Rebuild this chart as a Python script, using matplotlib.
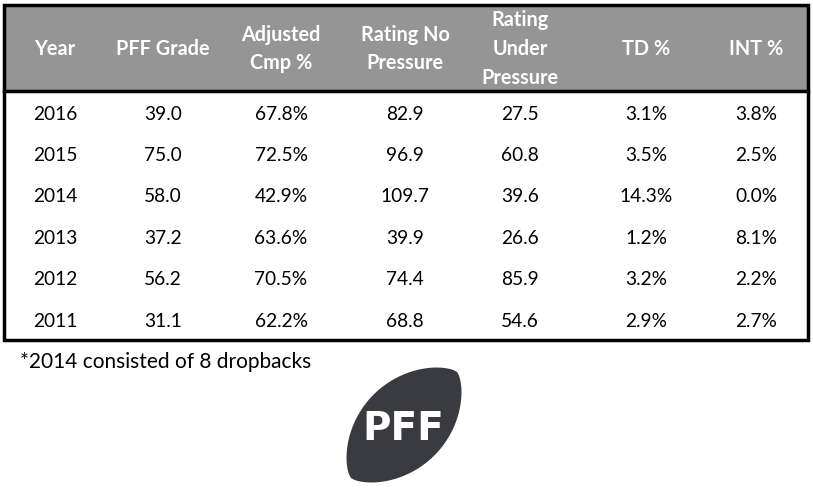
import numpy as np
import matplotlib
matplotlib.use("Agg")
import matplotlib.pyplot as plt
from matplotlib.patches import Rectangle, Polygon

plt.rcParams["font.family"] = ["Lato", "DejaVu Sans"]

headers = ["Year", "PFF Grade", "Adjusted\nCmp %", "Rating No\nPressure",
           "Rating\nUnder\nPressure", "TD %", "INT %"]
years = ["2016", "2015", "2014", "2013", "2012", "2011"]
pff_grade = ["39.0", "75.0", "58.0", "37.2", "56.2", "31.1"]
adj_cmp = ["67.8%", "72.5%", "42.9%", "63.6%", "70.5%", "62.2%"]
rating_no_pressure = ["82.9", "96.9", "109.7", "39.9", "74.4", "68.8"]
rating_under_pressure = ["27.5", "60.8", "39.6", "26.6", "85.9", "54.6"]
td_pct = ["3.1%", "3.5%", "14.3%", "1.2%", "3.2%", "2.9%"]
int_pct = ["3.8%", "2.5%", "0.0%", "8.1%", "2.2%", "2.7%"]
footnote = "*2014 consisted of 8 dropbacks"

columns = [years, pff_grade, adj_cmp, rating_no_pressure,
           rating_under_pressure, td_pct, int_pct]
col_x = [55, 163, 281, 405, 520, 646, 756]

W, H = 813, 490
fig = plt.figure(figsize=(W / 100, H / 100), dpi=100)
ax = fig.add_axes([0, 0, 1, 1])
ax.set_xlim(0, W)
ax.set_ylim(H, 0)
ax.axis("off")

left, right, top, head_bot, bottom = 4, 808, 5, 91, 340
ax.add_patch(Rectangle((left, top), right - left, head_bot - top,
                       facecolor="#959595", edgecolor="none"))
ax.add_patch(Rectangle((left, top), right - left, bottom - top,
                       facecolor="none", edgecolor="black", lw=2.5))
ax.plot([left, right], [head_bot, head_bot], color="black", lw=2.5)

for x, h in zip(col_x, headers):
    ax.text(x, 49, h, ha="center", va="center", color="white",
            fontsize=14.3, fontweight="bold", linespacing=1.55)

row_y = 114 + 41.4 * np.arange(len(years))
for x, col in zip(col_x, columns):
    for y, v in zip(row_y, col):
        ax.text(x, y, v, ha="center", va="center", color="black", fontsize=13.8)

ax.text(20, 362, footnote, ha="left", va="center", color="black", fontsize=15)

# PFF logo: rounded football shape rotated ~45 degrees
t = np.linspace(-1, 1, 200)
L, w = 75, 43
prof = w * (1 - t ** 2) ** 0.7
xs = np.concatenate([t * L, t[::-1] * L])
ys = np.concatenate([prof, -prof[::-1]])
ang = np.deg2rad(45)
cx, cy = 404, 425
px = cx + xs * np.cos(ang) + ys * np.sin(ang)
py = cy - xs * np.sin(ang) + ys * np.cos(ang)
ax.add_patch(Polygon(np.column_stack([px, py]), closed=True,
                     facecolor="#3a3b41", edgecolor="none"))
ax.text(403, 429, "PFF", ha="center", va="center", color="white",
        fontsize=28, fontweight="heavy", family="DejaVu Sans")

fig.savefig("out.png", dpi=100)
